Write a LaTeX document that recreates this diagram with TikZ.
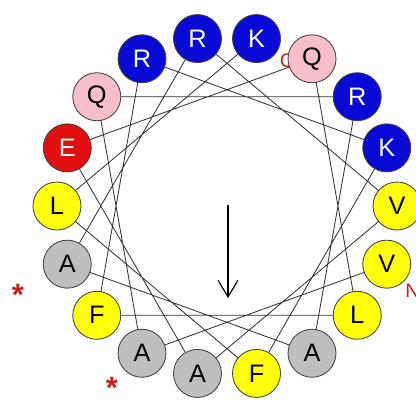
\documentclass[tikz,border=0pt]{standalone}
\usepackage{fontspec}
\setmainfont{Liberation Sans}
\usepackage{xcolor}
\usepackage{tikz}
\usetikzlibrary{arrows.meta,backgrounds}

\definecolor{resblue}{RGB}{10,10,215}
\definecolor{resred}{RGB}{225,15,15}
\definecolor{respink}{RGB}{245,190,200}
\definecolor{resyellow}{RGB}{255,255,10}
\definecolor{resgray}{RGB}{190,190,190}
\definecolor{markred}{RGB}{200,30,30}

\begin{document}
\begin{tikzpicture}[
    res/.style={circle, draw=black!75, line width=0.6pt, minimum size=1.2cm, inner sep=0pt,
                font=\fontsize{18}{18}\selectfont},
    basic/.style={res, fill=resblue, text=white},
    acidic/.style={res, fill=resred, text=white},
    polar/.style={res, fill=respink, text=black},
    hydro/.style={res, fill=resyellow, text=black},
    small/.style={res, fill=resgray, text=black},
    bond/.style={draw=black!80, line width=0.6pt},
    starmark/.style={text=markred, inner sep=0pt, anchor=north, font=\bfseries\fontsize{22}{22}\selectfont},
    term/.style={text=markred, inner sep=0pt, font=\fontsize{14}{14}\selectfont}
]
\useasboundingbox (-5.675,-4.825) rectangle (4.725,5.15);

% C terminus label (sits behind residue 11)
\node[term] (cterm) at (1.5,3.62) {C};

% Residues, 100 degrees per step
\node[hydro]  (v1)  at (-20:4.25)  {V};
\node[small]  (a2)  at (-120:4.25) {A};
\node[polar]  (q3)  at (140:4.25)  {Q};
\node[basic]  (r4)  at (40:4.25)   {R};
\node[small]  (a5)  at (-60:4.25)  {A};
\node[small]  (a6)  at (-160:4.25) {A};
\node[basic]  (r7)  at (100:4.25)  {R};
\node[hydro]  (v8)  at (0:4.25)    {V};
\node[small]  (a9)  at (-100:4.25) {A};
\node[acidic] (e10) at (160:4.25)  {E};
\node[polar]  (q11) at (60:4.25)   {Q};
\node[hydro]  (l12) at (-40:4.25)  {L};
\node[hydro]  (f13) at (-140:4.25) {F};
\node[basic]  (r14) at (120:4.25)  {R};
\node[basic]  (k15) at (20:4.25)   {K};
\node[hydro]  (f16) at (-80:4.25)  {F};
\node[hydro]  (l17) at (180:4.25)  {L};
\node[basic]  (k18) at (80:4.25)   {K};

% Backbone
\begin{scope}[on background layer]
\draw[bond] (v1.center) -- (a2.center) -- (q3.center) -- (r4.center) -- (a5.center)
    -- (a6.center) -- (r7.center) -- (v8.center) -- (a9.center) -- (e10.center)
    -- (q11.center) -- (l12.center) -- (f13.center) -- (r14.center) -- (k15.center)
    -- (f16.center) -- (l17.center) -- (k18.center);
\end{scope}

% Hydrophobic moment
\coordinate (momtail) at (0.025,0.03);
\coordinate (momhead) at (0.025,-2.3);
\draw[line width=0.8pt, -{Straight Barb[length=4.2mm,width=5mm]}] (momtail) -- (momhead);

% Markers
\node[term, anchor=west] (nterm) at (4.45,-2.12) {N};
\node[starmark] (star1) at (-5.225,-1.95) {*};
\node[starmark] (star2) at (-2.875,-4.28) {*};

\end{tikzpicture}
\end{document}
